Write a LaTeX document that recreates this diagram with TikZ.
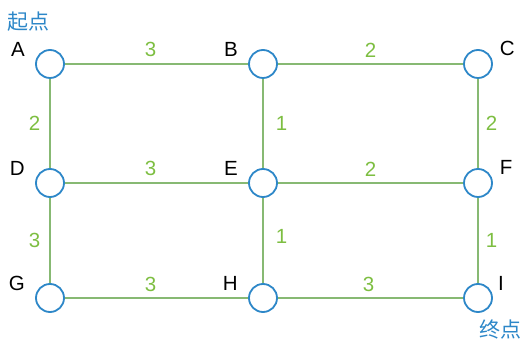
\documentclass[tikz,border=0pt]{standalone}
\usepackage{fontspec}
\setmainfont{Liberation Sans}
\newfontfamily\cjk{Noto Sans CJK SC}
\usepackage{xcolor}
\usetikzlibrary{positioning}

\definecolor{vblue}{RGB}{45,135,200}
\definecolor{egreen}{RGB}{135,185,115}
\definecolor{wgreen}{RGB}{125,190,65}

\begin{document}
\begin{tikzpicture}[on grid, font=\fontsize{20.5}{24}\selectfont,
  vertex/.style={circle, draw=vblue, line width=1.8pt, fill=white, minimum size=28pt, inner sep=0pt},
  edge/.style={draw=egreen, line width=1.6pt},
  wt/.style={text=wgreen, inner sep=1pt},
  lbl/.style={inner sep=1pt, label distance=10pt},
  tag/.style={text=vblue, font=\fontsize{21}{24}\cjk}]
\useasboundingbox (0,0) rectangle (525pt,-344pt);
% grid of vertices
\node[vertex, label={[lbl]165:A}] (A) at (50pt,-64pt) {};
\node[vertex, label={[lbl]165:B}, right=213pt of A] (B) {};
\node[vertex, label={[lbl, label distance=7pt]20:C}, right=215pt of B] (C) {};
\node[vertex, label={[lbl]165:D}, below=119pt of A] (D) {};
\node[vertex, label={[lbl]165:E}, right=213pt of D] (E) {};
\node[vertex, label={[lbl, label distance=7pt]20:F}, right=215pt of E] (F) {};
\node[vertex, label={[lbl]165:G}, below=115pt of D] (G) {};
\node[vertex, label={[lbl]165:H}, right=213pt of G] (H) {};
\node[vertex, label={[lbl, label distance=5pt]18:I}, right=215pt of H] (I) {};
\node[tag, above=42pt of A, xshift=-22pt] (start) {起点};
\node[tag, below=32pt of I, xshift=22pt] (goal) {终点};
% weighted edges
\draw[edge] (A) -- (B) node[wt, midway, above=5pt, xshift=-6pt] {3};
\draw[edge] (B) -- (C) node[wt, midway, above=5pt] {2};
\draw[edge] (D) -- (E) node[wt, midway, above=5pt, xshift=-6pt] {3};
\draw[edge] (E) -- (F) node[wt, midway, above=5pt] {2};
\draw[edge] (G) -- (H) node[wt, midway, above=4pt, xshift=-6pt] {3};
\draw[edge] (H) -- (I) node[wt, midway, above=4pt, xshift=-2pt] {3};
\draw[edge] (A) -- (D) node[wt, midway, left=8pt] {2};
\draw[edge] (D) -- (G) node[wt, midway, left=8pt] {3};
\draw[edge] (B) -- (E) node[wt, pos=0.5, right=11pt] {1};
\draw[edge] (E) -- (H) node[wt, pos=0.45, right=11pt] {1};
\draw[edge] (C) -- (F) node[wt, midway, right=6pt] {2};
\draw[edge] (F) -- (I) node[wt, pos=0.5, right=6pt] {1};
\end{tikzpicture}
\end{document}
